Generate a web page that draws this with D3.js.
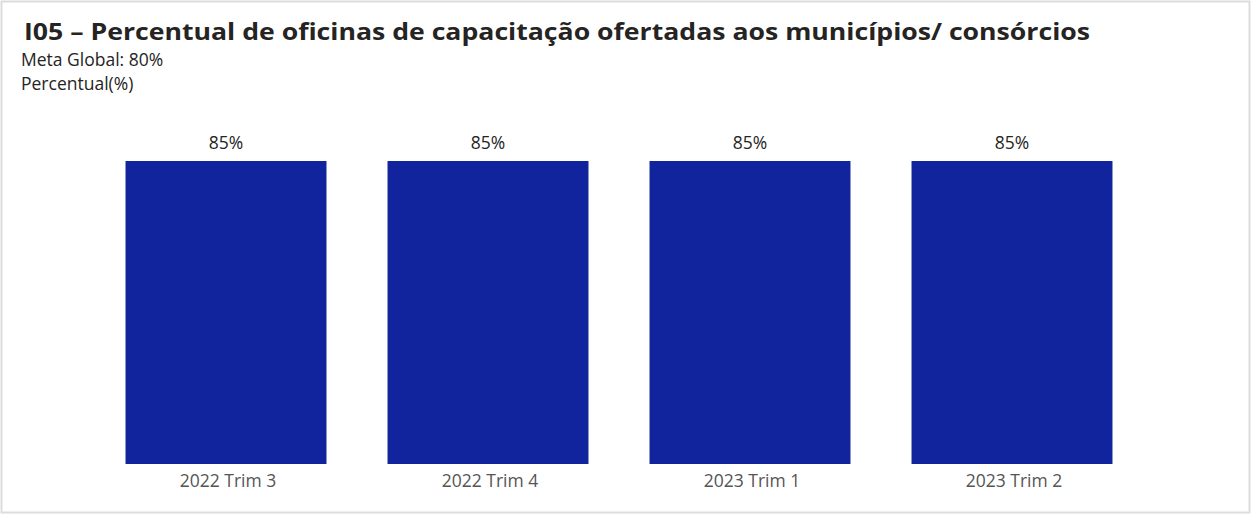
<!DOCTYPE html>
<html>
<head>
<meta charset="utf-8">
<script src="https://cdn.jsdelivr.net/npm/d3@7"></script>
<style>
  body { margin: 0; background: #fff; }
  svg { display: block; font-family: "Open Sans", "Noto Sans", sans-serif; }
</style>
</head>
<body>
<svg></svg>
<script>
const width = 1255;
const height = 515;

const periods = ["2022 Trim 3", "2022 Trim 4", "2023 Trim 1", "2023 Trim 2"];
const values = [85, 85, 85, 85];
const titleText = "I05 – Percentual de oficinas de capacitação ofertadas aos municípios/ consórcios";
const subtitles = ["Meta Global: 80%", "Percentual(%)"];

const svg = d3.select('svg').attr('width', width).attr('height', height);

// frame
svg.append('rect')
  .attr('x', 1.5).attr('y', 1.5)
  .attr('width', 1248).attr('height', 511)
  .attr('fill', '#fff')
  .attr('stroke', '#dcdcdc')
  .attr('stroke-width', 2);

svg.append('text')
  .attr('x', 24).attr('y', 40)
  .attr('font-size', 24)
  .attr('font-weight', 'bold')
  .attr('fill', '#252423')
  .attr('textLength', 1066)
  .attr('lengthAdjust', 'spacingAndGlyphs')
  .text(titleText);

svg.selectAll('.sub').data(subtitles).enter().append('text')
  .attr('class', 'sub')
  .attr('x', 21)
  .attr('y', (d, i) => 66 + i * 24)
  .attr('font-size', 17.5)
  .attr('fill', '#252423')
  .text(d => d);

const x = d3.scaleBand()
  .domain(periods)
  .range([95, 1143])
  .paddingInner(0.233)
  .paddingOuter(0.1165);

const y = d3.scaleLinear()
  .domain([0, d3.max(values)])
  .range([464, 161]);

const g = svg.append('g');

g.selectAll('rect.bar').data(periods).enter().append('rect')
  .attr('class', 'bar')
  .attr('x', d => x(d))
  .attr('y', (d, i) => y(values[i]))
  .attr('width', x.bandwidth())
  .attr('height', (d, i) => y(0) - y(values[i]))
  .attr('fill', '#12239e');

g.selectAll('text.val').data(periods).enter().append('text')
  .attr('class', 'val')
  .attr('x', d => x(d) + x.bandwidth() / 2)
  .attr('y', (d, i) => y(values[i]) - 12)
  .attr('text-anchor', 'middle')
  .attr('font-size', 17.5)
  .attr('fill', '#252423')
  .text((d, i) => values[i] + '%');

const xAxis = svg.append('g')
  .attr('transform', 'translate(2,464)')
  .call(d3.axisBottom(x).tickSize(0).tickPadding(11));
xAxis.select('.domain').remove();
xAxis.selectAll('text')
  .attr('font-size', 17.5)
  .attr('font-family', '"Open Sans", "Noto Sans", sans-serif')
  .attr('fill', '#555');
</script>
</body>
</html>
